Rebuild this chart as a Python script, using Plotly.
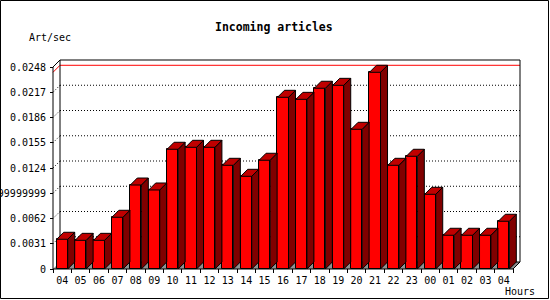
import plotly.graph_objects as go

# ---------------- data ----------------
hours = ["04", "05", "06", "07", "08", "09", "10", "11", "12", "13", "14", "15",
         "16", "17", "18", "19", "20", "21", "22", "23", "00", "01", "02", "03", "04"]
rates = [0.00365, 0.00352, 0.00352, 0.00635, 0.01031, 0.00970, 0.01470, 0.01494,
         0.01494, 0.01273, 0.01138, 0.01335, 0.02108, 0.02083, 0.02219, 0.02255,
         0.01715, 0.02415, 0.01273, 0.01384, 0.00917, 0.00414, 0.00414, 0.00414,
         0.00586]
ytick_vals = [0, 0.0031, 0.0062, 0.0093, 0.0124, 0.0155, 0.0186, 0.0217, 0.0248]
ytick_text = ["0", "0.0031", "0.0062", "0.009299999999", "0.0124", "0.0155",
              "0.0186", "0.0217", "0.0248"]
title = "Incoming articles"
y_title = "Art/sec"
x_title = "Hours"

# ---------------- geometry ----------------
W, H = 550, 300
L, R, T, B = 50, 523, 57, 273          # plot area in px
X0PX, Y0PX = 53, 269                   # px of front origin
PXX = 18.4                             # px per category
YMAX = ytick_vals[-1]
PXY = (Y0PX - 67) / YMAX               # px per unit
DEPTH = 7
dx = DEPTH / PXX
dy = DEPTH / PXY
n = len(rates)
xs = list(range(n))
xl, xr = -0.5, n - 0.5
BW = 0.6
hw = BW / 2

xrange = [xl - (X0PX - L) / PXX, xl + (R - X0PX) / PXX]
yrange = [-(B - Y0PX) / PXY, (Y0PX - T) / PXY]

def px(xp):
    return (xp - L) / (R - L)

def py(yp):
    return (B - yp) / (B - T)

FONT = "DejaVu Sans Mono"
FRONT = "#ff0000"
SIDE = "#800000"
TOP = "#c00000"
FLOOR = "#909090"

shapes = []
def line(x0, y0, x1, y1, color="black", dash="solid", layer="below"):
    shapes.append(dict(type="line", xref="x", yref="y", x0=x0, y0=y0, x1=x1, y1=y1,
                       line=dict(color=color, width=1, dash=dash), layer=layer))

# floor
shapes.append(dict(type="path", xref="x", yref="y", layer="below",
                   path=f"M{xl},0 L{xr},0 L{xr+dx},{dy} L{xl+dx},{dy} Z",
                   fillcolor=FLOOR, line=dict(width=0)))
# grid lines on back wall (dotted)
for v in ytick_vals[1:-1]:
    line(xl, v, xl + dx, v + dy, dash="1px,2px")
    line(xl + dx, v + dy, xr + dx, v + dy, dash="1px,2px")
# max line (red)
m = max(rates)
line(xl, m, xl + dx, m + dy, color="#ff0000")
line(xl + dx, m + dy, xr + dx, m + dy, color="#ff0000")
# back frame
line(xl + dx, dy, xl + dx, YMAX + dy)
line(xl + dx, YMAX + dy, xr + dx, YMAX + dy)
line(xr + dx, dy, xr + dx, YMAX + dy)
line(xl + dx, dy, xr + dx, dy)
line(xl, YMAX, xl + dx, YMAX + dy)

fig = go.Figure()

fig.add_trace(go.Bar(x=xs, y=rates, width=BW, marker=dict(color=FRONT, line=dict(color="black", width=1)),
                     hoverinfo="skip"))

# side faces and top faces
sx, sy, tx, ty = [], [], [], []
for x, v in zip(xs, rates):
    a = x + hw
    sx += [a, a + dx, a + dx, a, a, None]
    sy += [0, dy, v + dy, v, 0, None]
    tx += [x - hw, a, a + dx, x - hw + dx, x - hw, None]
    ty += [v, v, v + dy, v + dy, v, None]
fig.add_trace(go.Scatter(x=sx, y=sy, mode="lines", fill="toself", fillcolor=SIDE,
                         line=dict(color="black", width=1), hoverinfo="skip"))
fig.add_trace(go.Scatter(x=tx, y=ty, mode="lines", fill="toself", fillcolor=TOP,
                         line=dict(color="black", width=1), hoverinfo="skip"))
# front axes
fig.add_trace(go.Scatter(x=[xl, xl, xr, xr + dx], y=[YMAX, 0, 0, dy], mode="lines",
                         line=dict(color="black", width=1), hoverinfo="skip"))

# border
shapes.append(dict(type="rect", xref="paper", yref="paper", layer="above",
                   x0=px(0.5), x1=px(548.5), y0=py(0.5), y1=py(298.5),
                   line=dict(color="black", width=1)))

annotations = [
    dict(text=f"<b>{title}</b>", xref="paper", yref="paper", x=px(274), y=py(27),
         xanchor="center", yanchor="middle", showarrow=False,
         font=dict(family=FONT, size=11.5, color="black")),
    dict(text=y_title, xref="paper", yref="paper", x=px(50), y=py(37.5),
         xanchor="center", yanchor="middle", showarrow=False,
         font=dict(family=FONT, size=10, color="black")),
    dict(text=x_title, xref="paper", yref="paper", x=px(519.5), y=py(291.5),
         xanchor="center", yanchor="middle", showarrow=False,
         font=dict(family=FONT, size=10, color="black")),
]

fig.update_layout(
    width=W, height=H, margin=dict(l=L, r=W - R, t=T, b=H - B, autoexpand=False),
    paper_bgcolor="white", plot_bgcolor="white", showlegend=False,
    shapes=shapes, annotations=annotations, bargap=0,
    xaxis=dict(range=xrange, tickvals=xs, ticktext=hours, ticks="", showgrid=False,
               zeroline=False, showline=False, fixedrange=True, automargin=False,
               tickfont=dict(family=FONT, size=10, color="black"),
               minor=dict(ticks="inside", tick0=-0.5, dtick=1, ticklen=4,
                          tickcolor="black", tickwidth=1, showgrid=False)),
    yaxis=dict(range=yrange, tickvals=ytick_vals, ticktext=ytick_text, ticks="inside",
               ticklen=3, tickcolor="black", tickwidth=1, showgrid=False,
               zeroline=False, showline=False, fixedrange=True, automargin=False,
               ticklabelstandoff=3,
               tickfont=dict(family=FONT, size=10, color="black")),
)

fig.write_html("out.html")
